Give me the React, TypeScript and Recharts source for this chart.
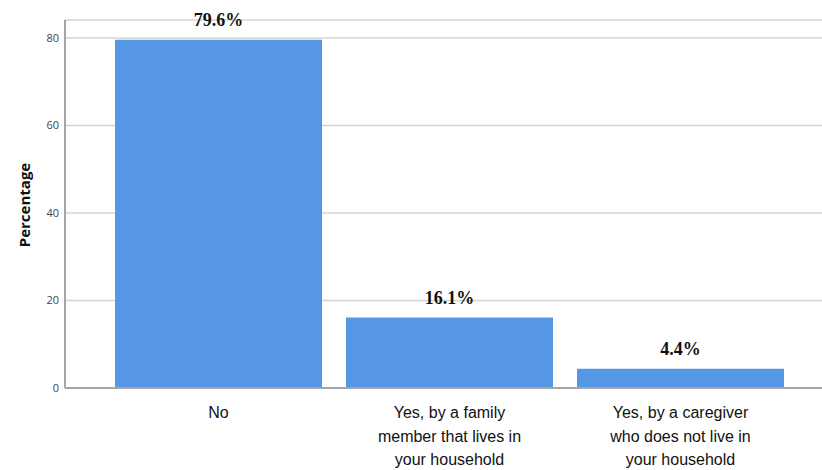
import { BarChart, Bar, XAxis, YAxis, CartesianGrid, LabelList } from 'recharts';

const categories = [
  'No',
  'Yes, by a family member that lives in your household',
  'Yes, by a caregiver who does not live in your household',
];
const categoryLines = [
  ['No'],
  ['Yes, by a family', 'member that lives in', 'your household'],
  ['Yes, by a caregiver', 'who does not live in', 'your household'],
];
const percentages = [79.6, 16.1, 4.4];
const yTicks = [0, 20, 40, 60, 80];

const data = categories.map((name, i) => ({ name, value: percentages[i], lines: categoryLines[i] }));

const BAR_COLOR = '#5596e5';
const AXIS_COLOR = '#a6a6a6';
const GRID_COLOR = '#d4d4d4';

function CategoryTick(props: any) {
  const { x, y, index } = props;
  const lines = categoryLines[index] || [];
  return (
    <text
      x={x}
      y={y}
      textAnchor="middle"
      fill="#111"
      fontFamily="'Liberation Sans', Arial, sans-serif"
      fontSize={16}
    >
      {lines.map((l, i) => (
        <tspan key={i} x={x} dy={i === 0 ? 22 : 23.5}>
          {l}
        </tspan>
      ))}
    </text>
  );
}

function YTitle(props: any) {
  const { viewBox } = props;
  const cx = 30;
  const cy = viewBox.y + viewBox.height / 2 + 1;
  return (
    <text
      x={cx}
      y={cy}
      transform={`rotate(-90, ${cx}, ${cy})`}
      textAnchor="middle"
      fontFamily="'Open Sans', 'Noto Sans', sans-serif"
      fontWeight="bold"
      fontSize={15}
      fill="#111"
    >
      Percentage
    </text>
  );
}

export default function App() {
  return (
    <div style={{ position: 'absolute', left: 0, top: 0, width: 822, height: 470, background: '#fff' }}>
      <BarChart
        width={822}
        height={470}
        data={data}
        margin={{ top: 20, right: 0, left: 0, bottom: 0 }}
        barCategoryGap={12}
      >
        <CartesianGrid vertical={false} stroke={GRID_COLOR} strokeWidth={1.5} />
        <XAxis
          dataKey="name"
          height={82}
          padding={{ left: 38, right: 26 }}
          tickLine={false}
          stroke={AXIS_COLOR}
          strokeWidth={2}
          interval={0}
          tick={<CategoryTick />}
        />
        <YAxis
          width={65}
          domain={[0, 84.1]}
          ticks={yTicks}
          tickLine={false}
          tickSize={0}
          tickMargin={6}
          stroke={AXIS_COLOR}
          strokeWidth={2}
          tick={{ fill: '#444', fontSize: 11, fontFamily: "'Open Sans', 'Noto Sans', sans-serif" }}
          label={<YTitle />}
        />
        <Bar dataKey="value" fill={BAR_COLOR} isAnimationActive={false}>
          <LabelList
            dataKey="value"
            position="top"
            offset={14}
            formatter={(v: any) => `${Number(v).toFixed(1)}%`}
            style={{ fontFamily: "'Liberation Serif', 'Times New Roman', serif", fontWeight: 'bold', fontSize: 18, fill: '#111' }}
          />
        </Bar>
      </BarChart>
    </div>
  );
}
